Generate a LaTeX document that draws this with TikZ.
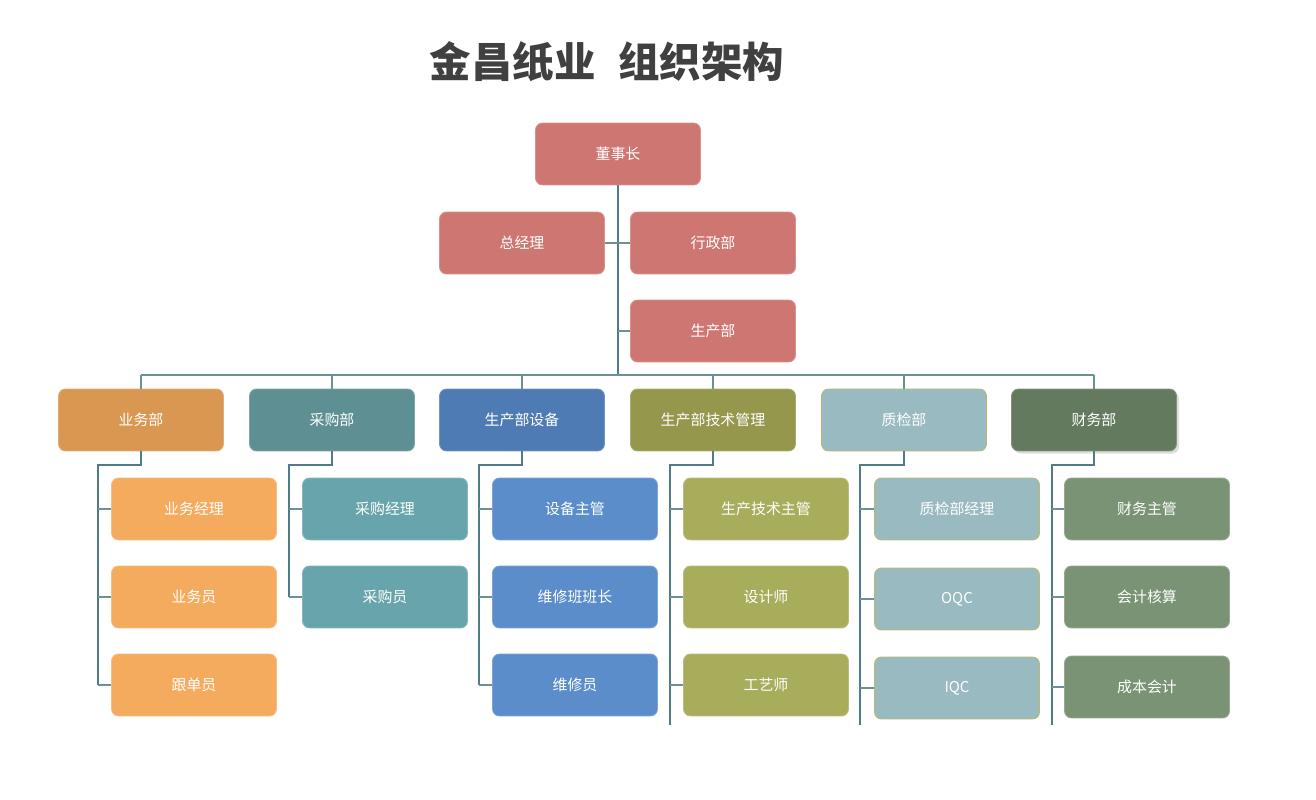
\documentclass[tikz,border=0pt]{standalone}
\usepackage{fontspec}
\setmainfont{Noto Sans CJK SC}
\usepackage{xcolor}
\usepackage{tikz}
\usetikzlibrary{positioning,shadows}
\definecolor{boardred}{HTML}{CD7672}
\definecolor{salesdk}{HTML}{DA9752}
\definecolor{saleslt}{HTML}{F5AB5E}
\definecolor{buydk}{HTML}{5E8F93}
\definecolor{buylt}{HTML}{68A4AB}
\definecolor{equipdk}{HTML}{4E7BB3}
\definecolor{equiplt}{HTML}{5A8DC9}
\definecolor{techdk}{HTML}{94974C}
\definecolor{techlt}{HTML}{A8AD5C}
\definecolor{qcfill}{HTML}{9ABAC1}
\definecolor{qcline}{HTML}{B7B96E}
\definecolor{findk}{HTML}{637A5F}
\definecolor{finlt}{HTML}{7A9374}
\definecolor{linkcol}{HTML}{507C86}
\definecolor{titlegray}{HTML}{404040}

\begin{document}
\begin{tikzpicture}[
  x=0.02cm,y=-0.02cm,
  box/.style={rounded corners=4pt,minimum width=3.3cm,minimum height=1.24cm,
              text=white,align=center,inner sep=2pt,line width=0.5pt,
              font=\fontsize{8.5}{10}\selectfont},
  top/.style={box,fill=boardred,draw=boardred!80!white},
  sales/.style={box,fill=salesdk,draw=salesdk!80!white},
  salesSub/.style={box,fill=saleslt,draw=saleslt!80!white},
  buy/.style={box,fill=buydk,draw=buydk!80!white},
  buySub/.style={box,fill=buylt,draw=buylt!80!white},
  equip/.style={box,fill=equipdk,draw=equipdk!80!white},
  equipSub/.style={box,fill=equiplt,draw=equiplt!80!white},
  tech/.style={box,fill=techdk,draw=techdk!80!white},
  techSub/.style={box,fill=techlt,draw=techlt!80!white},
  qc/.style={box,fill=qcfill,draw=qcline},
  qcSub/.style={box,fill=qcfill,draw=qcline},
  fin/.style={box,fill=findk,draw=findk!80!white,
              drop shadow={opacity=0.25,shadow xshift=1.5pt,shadow yshift=-1.5pt}},
  finSub/.style={box,fill=finlt,draw=finlt!80!white},
  link/.style={draw=linkcol,line width=1pt},
  bus/.style={draw=linkcol!85!white,line width=0.8pt},
]
\useasboundingbox (0,0) rectangle (1316,800);

% title
\node[font=\fontsize{23.6}{28}\selectfont\bfseries,text=titlegray] (title) at (607,62)
  {金昌纸业\hspace{0.55em}组织架构};

% board level
\node[top] (chair) at (618,154) {董事长};
\node[top] (gm)    at (522,243) {总经理};
\node[top] (admin) at (713,243) {行政部};
\node[top] (prod)  at (713,331) {生产部};

% departments
\node[sales] (yw)  at (141,420) {业务部};
\node[buy]   (cg)  at (332,420) {采购部};
\node[equip] (sb)  at (522,420) {生产部设备};
\node[tech]  (js)  at (713,420) {生产部技术管理};
\node[qc]    (zj)  at (904,420) {质检部};
\node[fin]   (cw)  at (1094,420) {财务部};

% staff under each department
\node[salesSub] (yw1) at (194,509) {业务经理};
\node[salesSub] (yw2) at (194,597) {业务员};
\node[salesSub] (yw3) at (194,685) {跟单员};

\node[buySub] (cg1) at (385,509) {采购经理};
\node[buySub] (cg2) at (385,597) {采购员};

\node[equipSub] (sb1) at (575,509) {设备主管};
\node[equipSub] (sb2) at (575,597) {维修班班长};
\node[equipSub] (sb3) at (575,685) {维修员};

\node[techSub] (js1) at (766,509) {生产技术主管};
\node[techSub] (js2) at (766,597) {设计师};
\node[techSub] (js3) at (766,685) {工艺师};

\node[qcSub] (zj1) at (957,509) {质检部经理};
\node[qcSub] (zj2) at (957,599) {OQC};
\node[qcSub] (zj3) at (957,688) {IQC};

\node[finSub] (cw1) at (1147,509) {财务主管};
\node[finSub] (cw2) at (1147,597) {会计核算};
\node[finSub] (cw3) at (1147,687) {成本会计};

% trunk and bus
\coordinate (busL) at (141,375);
\coordinate (busR) at (1094,375);
\draw[link] (chair.south) -- (chair.south |- busL);
\draw[bus] (gm.east) -- (admin.west);
\draw[bus] (prod.west) -- (chair.south |- prod.west);
\draw[bus] (busL) -- (busR);
\foreach \d in {yw,cg,sb,js,zj,cw}
  \draw[bus] (\d.north) -- (\d.north |- busL);

% department spines
\coordinate (ywS) at (98,465);
\coordinate (cgS) at (289,465);
\coordinate (sbS) at (479,465);
\coordinate (jsS) at (670,465);
\coordinate (zjS) at (860,465);
\coordinate (cwS) at (1052,465);
\coordinate (bottom) at (0,725);

\draw[link] (yw.south) |- (ywS) -- (ywS |- yw3.west);
\draw[link] (cg.south) |- (cgS) -- (cgS |- cg2.west);
\draw[link] (sb.south) |- (sbS) -- (sbS |- sb3.west);
\draw[link] (js.south) |- (jsS) -- (jsS |- bottom);
\draw[link] (zj.south) |- (zjS) -- (zjS |- bottom);
\draw[link] (cw.south) |- (cwS) -- (cwS |- bottom);

\foreach \c in {yw1,yw2,yw3}
  \draw[bus] (\c.west) -- (ywS |- \c.west);
\foreach \c in {cg1,cg2}
  \draw[bus] (\c.west) -- (cgS |- \c.west);
\foreach \c in {sb1,sb2,sb3}
  \draw[bus] (\c.west) -- (sbS |- \c.west);
\foreach \c in {js1,js2,js3}
  \draw[bus] (\c.west) -- (jsS |- \c.west);
\foreach \c in {zj1,zj2,zj3}
  \draw[bus] (\c.west) -- (zjS |- \c.west);
\foreach \c in {cw1,cw2,cw3}
  \draw[bus] (\c.west) -- (cwS |- \c.west);
\end{tikzpicture}
\end{document}
